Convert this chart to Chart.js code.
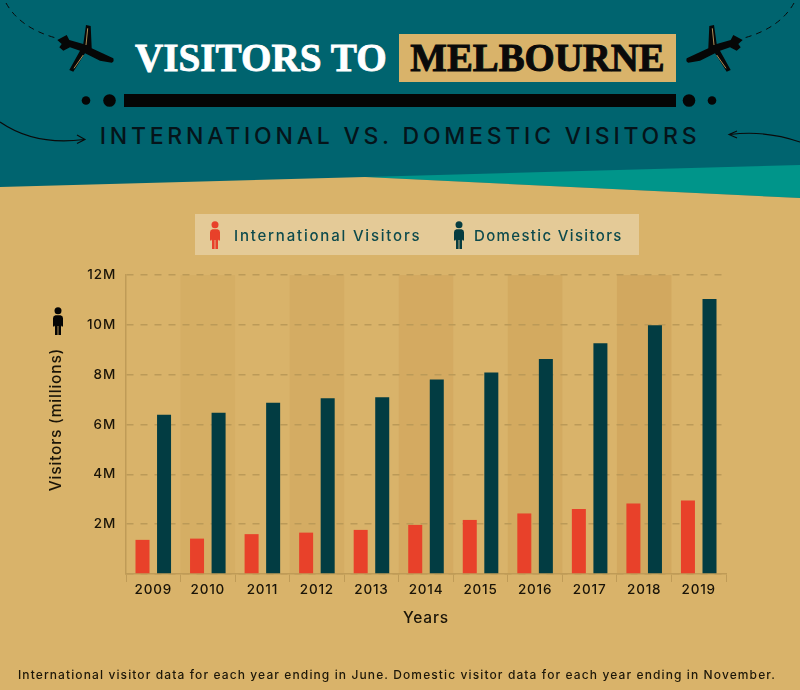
<!DOCTYPE html>
<html>
<head>
<meta charset="utf-8">
<title>Visitors to Melbourne</title>
<script src="https://cdn.jsdelivr.net/npm/chart.js@4"></script>
<style>
html, body { margin: 0; padding: 0; background: #d9b36a; }
#page { position: relative; width: 800px; height: 690px; overflow: hidden; }
#page > * { position: absolute; }
#art { left: 0; top: 0; }
#chart { left: 0; top: 0; }
.t { white-space: nowrap; line-height: 1; }
#title1 { left: 135px; top: 38px; font: bold 40px "Liberation Serif"; line-height: 1; color: #fff; -webkit-text-stroke: 0.8px #fff; transform: scaleX(0.98); transform-origin: left center; }
#titleBox { left: 399px; top: 34px; width: 277px; height: 48px; background: #d9b36a; }
#title2 { left: 399px; width: 277px; text-align: center; top: 38px; font: bold 40px "Liberation Serif"; line-height: 1; color: #0a0a0a; -webkit-text-stroke: 1px #0a0a0a; transform: scaleX(0.97); }
#subtitle { left: 0; width: 800px; text-align: center; top: 125px; font: 500 23px Inter; line-height: 1; letter-spacing: 3.77px; color: #05141a; }
#legendBox { left: 195px; top: 214px; width: 444px; height: 41px; background: rgba(255,255,255,0.3); }
.lg { font: 500 15px Inter; line-height: 1; color: #0d4a4c; }
#foot { left: 0; width: 794px; text-align: center; top: 669px; font: 500 12px Inter; line-height: 1; letter-spacing: 1.11px; color: #1d1708; }
</style>
</head>
<body>
<div id="page">
  <svg id="art" width="800" height="690" viewBox="0 0 800 690">
    <defs>
      <symbol id="person" viewBox="0 0 10 28">
        <circle cx="5" cy="3.700" r="3.500" fill="currentColor"/>
        <path d="M2.500 8.200h5q2.500 .3 2.500 3v8.300h-1.500v-.8H8v9.300H5.400v-9h-.8v9H2v-9.300h-.5v.8H0v-8.300q0-2.700 2.500-3z" fill="currentColor"/>
      </symbol>
      <g id="plane">
        <path d="M57.300 40 L66.700 35 L69.300 40 L83.300 44 L86 25 L90.700 26 L91.700 48.300 L113.300 58.300 Q114.500 62 111.700 62.700 L100 60.700 L85 53.300 L73.300 71.700 L69.300 70 L80 50.700 L70 47.300 L63.300 50.700 L59.300 47.300 L61.700 44 Z" fill="#060606"/>
        <path d="M87.700 28.300 L86 45 M83.300 55 L74 68.300" stroke="#d9b36a" stroke-width="0.8" fill="none"/>
        <path d="M6 3 Q20 28 56 38" stroke="#0a0a0a" stroke-width="1" stroke-dasharray="6 5" fill="none"/>
      </g>
    </defs>
    <rect width="800" height="200" fill="#00646f"/>
    <polygon points="365,177 800,165 800,198" fill="#00958a"/>
    <polygon points="0,187 365,177 800,198 800,240 0,240" fill="#d9b36a"/>
    <use href="#plane"/>
    <use href="#plane" transform="translate(800,0) scale(-1,1)"/>
    <rect x="124" y="94" width="552" height="13" fill="#050505"/>
    <circle cx="86" cy="100.500" r="4.300" fill="#050505"/>
    <circle cx="109.500" cy="100.500" r="6.300" fill="#050505"/>
    <circle cx="689" cy="100.500" r="6.300" fill="#050505"/>
    <circle cx="712" cy="100.500" r="4.300" fill="#050505"/>
    <path d="M0 122 Q35 146 84 139.500 M77 135 L85 139.500 L77 143.500" stroke="#0a0a0a" stroke-width="1.100" fill="none"/>
    <path d="M800 142 Q765 130 730 134.500 M737 131 L729 134.500 L737 138" stroke="#0a0a0a" stroke-width="1.100" fill="none"/>
  </svg>
  <div id="titleBox"></div>
  <div id="title1" class="t">VISITORS TO</div>
  <div id="title2" class="t">MELBOURNE</div>
  <div id="subtitle" class="t">INTERNATIONAL VS. DOMESTIC VISITORS</div>
  <div id="legendBox"></div>
  <canvas id="chart" width="800" height="690"></canvas>
  <svg style="left:210px;top:221px;color:#e8412a" width="10" height="28"><use href="#person" width="10" height="28"/></svg>
  <svg style="left:454px;top:221px;color:#063c40" width="10" height="28"><use href="#person" width="10" height="28"/></svg>
  <svg style="left:53px;top:307px;color:#050505" width="10" height="28"><use href="#person" width="10" height="28"/></svg>
  <div class="t lg" style="left:234px;top:228px;letter-spacing:1.8px">International Visitors</div>
  <div class="t lg" style="left:474px;top:228px;letter-spacing:1.35px">Domestic Visitors</div>
  <div id="foot" class="t">International visitor data for each year ending in June. Domestic visitor data for each year ending in November.</div>
</div>
<script>
var years = ['2009', '2010', '2011', '2012', '2013', '2014', '2015', '2016', '2017', '2018', '2019'];
var international = [1.37, 1.42, 1.60, 1.66, 1.77, 1.97, 2.17, 2.43, 2.61, 2.83, 2.95];
var domestic = [6.39, 6.47, 6.87, 7.05, 7.09, 7.81, 8.09, 8.63, 9.26, 9.98, 11.04];

var axisColor = '#bf9b57';
var inkColor = '#1a1408';
var tickFont = { family: 'Inter', size: 13.5, weight: '500' };

// faint stripe behind every second year, a little stronger to the right
var bandsPlugin = {
    id: 'bands',
    beforeDraw: function (chart) {
        var x = chart.scales.x, area = chart.chartArea, ctx = chart.ctx;
        var w = x.getPixelForValue(1) - x.getPixelForValue(0);
        ctx.save();
        years.forEach(function (y, i) {
            if (i % 2 === 1) {
                ctx.fillStyle = 'rgba(190, 135, 60, ' + (0.1 + i * 0.016) + ')';
                ctx.fillRect(x.getPixelForValue(i) - w / 2, area.top, w, area.bottom - area.top);
            }
        });
        ctx.restore();
        ctx.letterSpacing = '0.8px';
    }
};

new Chart(document.getElementById('chart'), {
    type: 'bar',
    data: {
        labels: years,
        datasets: [
            { label: 'International Visitors', data: international, backgroundColor: '#e8412a' },
            { label: 'Domestic Visitors', data: domestic, backgroundColor: '#023c42' }
        ]
    },
    options: {
        responsive: false,
        animation: false,
        devicePixelRatio: 1,
        categoryPercentage: 0.79,
        barPercentage: 0.65,
        layout: { padding: { top: 275, right: 74, left: 0, bottom: 0 } },
        plugins: { legend: { display: false }, tooltip: { enabled: false } },
        scales: {
            x: {
                afterFit: function (scale) { scale.height = 116; },
                grid: {
                    drawOnChartArea: false,
                    tickLength: 8,
                    color: axisColor
                },
                border: { color: axisColor, width: 1.5 },
                ticks: { color: inkColor, font: tickFont, padding: 0, maxRotation: 0 },
                title: {
                    display: true,
                    text: 'Years',
                    color: inkColor,
                    font: { family: 'Inter', size: 15.5, weight: '500' },
                    padding: { top: 6, bottom: 62 }
                }
            },
            y: {
                min: 0,
                max: 12,
                afterFit: function (scale) { scale.width = 126; },
                grid: {
                    drawTicks: false,
                    color: '#bb9a58',
                    lineWidth: 1.5
                },
                border: { color: axisColor, width: 1.5, dash: [7, 7] },
                ticks: {
                    stepSize: 2,
                    color: inkColor,
                    font: tickFont,
                    padding: 10,
                    callback: function (v) { return v === 0 ? '' : v + 'M'; }
                },
                title: {
                    display: true,
                    // leading spaces lift the label slightly above the axis centre
                    text: '  Visitors (millions)',
                    color: inkColor,
                    font: { family: 'Inter', size: 15.5, weight: '500' },
                    padding: { top: 47, bottom: 0 }
                }
            }
        }
    },
    plugins: [bandsPlugin]
});
</script>
</body>
</html>
